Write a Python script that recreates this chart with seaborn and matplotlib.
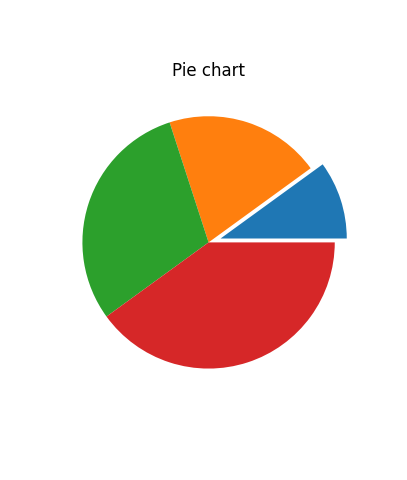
import matplotlib
matplotlib.use("Agg")
import matplotlib.pyplot as plt
import seaborn as sns

labels = ["A", "B", "C", "D"]
values = [10, 20, 30, 40]
explode = [0.1, 0, 0, 0]

colors = sns.color_palette("tab10", 4)
fig, ax = plt.subplots(figsize=(4.07, 4.8), dpi=100)
ax.pie(values, explode=explode, colors=colors)
ax.set_title("Pie chart")
fig.savefig("out.png", dpi=100)
